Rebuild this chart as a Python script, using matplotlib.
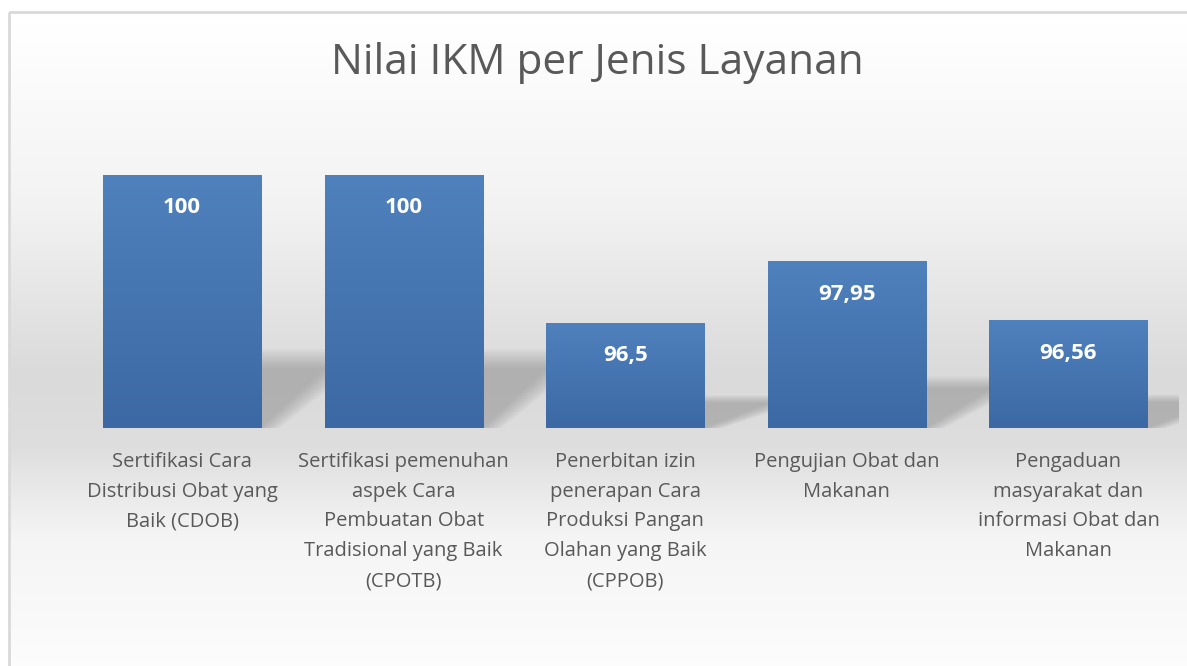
#!/usr/bin/env python3
"""Nilai IKM per Jenis Layanan - bar chart in the old Excel style."""

import numpy as np
import matplotlib
matplotlib.use("Agg")
import matplotlib.pyplot as plt
from matplotlib.patches import Polygon, Rectangle

# data
categories = [
    "Sertifikasi Cara\nDistribusi Obat yang\nBaik (CDOB)",
    "Sertifikasi pemenuhan\naspek Cara\nPembuatan Obat\nTradisional yang Baik\n(CPOTB)",
    "Penerbitan izin\npenerapan Cara\nProduksi Pangan\nOlahan yang Baik\n(CPPOB)",
    "Pengujian Obat dan\nMakanan",
    "Pengaduan\nmasyarakat dan\ninformasi Obat dan\nMakanan",
]
values = [100, 100, 96.5, 97.95, 96.56]
value_labels = ["100", "100", "96,5", "97,95", "96,56"]
title = "Nilai IKM per Jenis Layanan"

W, H = 1187, 666
plt.rcParams['font.family'] = ['Open Sans', 'DejaVu Sans']

fig = plt.figure(figsize=(W / 100, H / 100), dpi=100)

# background: white -> grey -> white, inside a thin grey frame
bg = fig.add_axes([0, 0, 1, 1], zorder=-10)
bg.set_xlim(0, W)
bg.set_ylim(H, 0)
bg.axis("off")
yy = np.linspace(0, 1, 300)
shade = np.interp(yy, [0, 0.02, 0.3, 0.55, 0.66, 0.8, 1.0],
                  [1.0, 1.0, 0.95, 0.855, 0.87, 0.96, 0.99])
grad = np.dstack([shade, shade, shade])[0][:, None, :].repeat(2, axis=1)
bg.imshow(grad, extent=[9, W + 5, H + 5, 12], aspect="auto", zorder=0)
bg.add_patch(Rectangle((8.5, 11.5), W + 10, H + 10, fill=False,
                       edgecolor="#d9d9d9", lw=2, zorder=1))

# plot area: bar i centred at 182 + 221.6*i px, 94 at y=428, 100 at y=175
px_per_unit = (428 - 175) / 6.0
ymin, ymax = 94, 101
ax_left = 182 - 110.8
ax_right = 1068.5 + 110.8
ax_bottom = 428
ax_top = 428 - (ymax - ymin) * px_per_unit
ax = fig.add_axes([ax_left / W, 1 - ax_bottom / H,
                   (ax_right - ax_left) / W, (ax_bottom - ax_top) / H])
ax.set_xlim(-0.5, len(values) - 0.5)
ax.set_ylim(ymin, ymax)
ax.patch.set_alpha(0)
for s in ax.spines.values():
    s.set_visible(False)
ax.set_yticks([])
ax.set_xticks(range(len(values)))
ax.set_xticklabels(categories, color="#595959", fontsize=14.5, linespacing=1.66)
ax.tick_params(axis="x", length=0, pad=17)

bar_w = 0.713
x = np.arange(len(values))

# soft perspective shadows behind the bars
for xi, v in zip(x, values):
    h = v - ymin
    for k in range(8):
        grow = k * 0.012
        sh = h * (0.24 + 0.01 * k)
        dx = 0.30 + 0.02 * k
        poly = Polygon([(xi - bar_w / 2, ymin), (xi + bar_w / 2 + grow, ymin),
                        (xi + bar_w / 2 + dx + grow, ymin + sh),
                        (xi - bar_w / 2 + dx, ymin + sh)],
                       closed=True, facecolor="#707070", edgecolor="none",
                       alpha=0.055, zorder=1)
        ax.add_patch(poly)

# bars with a vertical gradient
bars = ax.bar(x, values, width=bar_w, bottom=0, color="none", zorder=2)
top_c = np.array([0x4f, 0x81, 0xbd]) / 255
bot_c = np.array([0x3c, 0x69, 0xa3]) / 255
t = np.linspace(0, 1, 100)[:, None]
bar_grad = (top_c * (1 - t) + bot_c * t)[:, None, :].repeat(2, axis=1)
for b, v in zip(bars, values):
    im = ax.imshow(bar_grad, extent=[b.get_x(), b.get_x() + bar_w, ymin, v],
                   aspect="auto", zorder=3)
    im.set_clip_path(b)

ax.set_xlim(-0.5, len(values) - 0.5)
ax.set_ylim(ymin, ymax)

# value labels inside the top of each bar
for xi, v, lab in zip(x, values, value_labels):
    ax.annotate(lab, (xi, v), xytext=(0, -33), textcoords="offset pixels",
                ha="center", va="center", color="white", fontsize=16,
                fontweight="bold", zorder=5)

fig.text(597 / W, 1 - 63 / H, title, ha="center", va="center",
         color="#595959", fontsize=30.5)

fig.savefig("out.png", dpi=100)
